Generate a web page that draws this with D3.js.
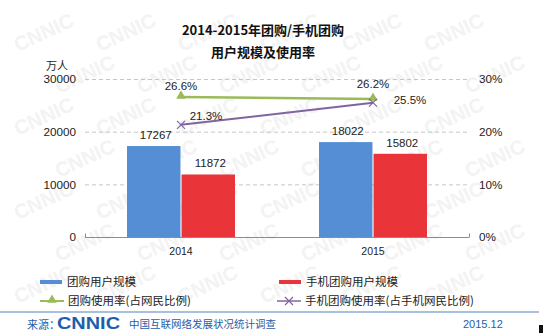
<!DOCTYPE html>
<html>
<head>
<meta charset="utf-8">
<script src="https://cdn.jsdelivr.net/npm/d3@7/dist/d3.min.js"></script>
<style>
  html, body { margin: 0; padding: 0; background: #fff; }
  svg { display: block; font-family: "Liberation Sans", Arial, "Noto Sans CJK SC", sans-serif; }
</style>
</head>
<body>
<svg id="chart" width="543" height="333"></svg>
<script>
// Data
const years = ["2014", "2015"];
const groupBuyUsers = [17267, 18022];        // 团购用户规模 (万人)
const mobileGroupBuyUsers = [11872, 15802];  // 手机团购用户规模 (万人)
const groupBuyRate = [26.6, 26.2];           // 团购使用率 (%)
const mobileGroupBuyRate = [21.3, 25.5];     // 手机团购使用率 (%)
const leftTicks = [0, 10000, 20000, 30000];
const rightTicks = [0, 10, 20, 30];

const C = {
  blue: "#558ed5",
  red: "#e9353a",
  green: "#9bbb59",
  purple: "#8064a2",
  grid: "#c6c6c6",
  axis: "#8c8c8c",
  brand: "#1f5ea8"
};
const CJK = '"Noto Sans CJK SC", "Liberation Sans", sans-serif';

const svg = d3.select("#chart");

// Faint background watermark, only whole marks inside the canvas
const wm = svg.append("g").attr("fill", "#f3f3f3").attr("font-weight", "bold")
  .attr("font-size", 20).attr("font-family", "Liberation Sans, Arial, sans-serif");
for (let r = 0; r < 8; r++) {
  for (let c = 0; c < 7; c++) {
    const px = c * 82 + (r % 2) * 41 + 18;
    const py = r * 42 + 52;
    if (px + 62 > 538 || py > 330) continue;
    wm.append("text").attr("x", px).attr("y", py)
      .attr("transform", `rotate(-25,${px},${py})`).text("CNNIC");
  }
}

// Scales
const x = d3.scaleBand().domain(years).range([85, 469]);
const inner = d3.scaleBand().domain([0, 1]).range([42, 150]).paddingInner(0.02);
const yL = d3.scaleLinear().domain([0, 30000]).range([237, 79]);
const yR = d3.scaleLinear().domain([0, 30]).range([237, 79]);

// Title
svg.append("text").attr("x", 263).attr("y", 35).attr("text-anchor", "middle")
  .attr("font-family", CJK).attr("font-weight", "bold").attr("font-size", 13)
  .attr("fill", "#111").text("2014-2015年团购/手机团购");
svg.append("text").attr("x", 263).attr("y", 57).attr("text-anchor", "middle")
  .attr("font-family", CJK).attr("font-weight", "bold").attr("font-size", 13)
  .attr("fill", "#111").text("用户规模及使用率");

// Unit label
svg.append("text").attr("x", 46).attr("y", 70).attr("font-family", CJK)
  .attr("font-size", 11).attr("fill", "#222").text("万人");

// Gridlines
svg.append("g").selectAll("line").data(leftTicks.filter(d => d > 0)).join("line")
  .attr("x1", 85).attr("x2", 469)
  .attr("y1", d => yL(d) + 0.5).attr("y2", d => yL(d) + 0.5)
  .attr("stroke", C.grid).attr("stroke-dasharray", "4,3");

// Left axis
const leftAxis = svg.append("g").attr("transform", "translate(76,0)")
  .call(d3.axisLeft(yL).tickValues(leftTicks).tickSize(0).tickPadding(0).tickFormat(d3.format("d")));
leftAxis.select(".domain").remove();
leftAxis.selectAll("text").attr("font-size", 11.7).attr("fill", "#222")
  .attr("font-family", "Liberation Sans, Arial, sans-serif");

// Right axis
const rightAxis = svg.append("g").attr("transform", "translate(479,0)")
  .call(d3.axisRight(yR).tickValues(rightTicks).tickSize(0).tickPadding(0).tickFormat(d => d + "%"));
rightAxis.select(".domain").remove();
rightAxis.selectAll("text").attr("font-size", 11.7).attr("fill", "#222")
  .attr("font-family", "Liberation Sans, Arial, sans-serif");

// Bars
const series = [groupBuyUsers, mobileGroupBuyUsers];
const colors = [C.blue, C.red];
const bars = svg.append("g");
series.forEach((vals, si) => {
  bars.selectAll(null).data(vals).join("rect")
    .attr("x", (d, i) => x(years[i]) + inner(si))
    .attr("width", inner.bandwidth())
    .attr("y", d => yL(d))
    .attr("height", d => yL(0) - yL(d))
    .attr("fill", colors[si]);
  bars.selectAll(null).data(vals).join("text")
    .attr("x", (d, i) => x(years[i]) + inner(si) + inner.bandwidth() / 2 + 2)
    .attr("y", d => yL(d) - 7)
    .attr("text-anchor", "middle").attr("font-size", 11.5).attr("fill", "#222")
    .text(d => d);
});

// Category axis
const baseY = yL(0) + 0.5;
svg.append("line").attr("x1", 85).attr("x2", 469).attr("y1", baseY).attr("y2", baseY)
  .attr("stroke", C.axis);
[85, 469].forEach(px => {
  svg.append("line").attr("x1", px + 0.5).attr("x2", px + 0.5).attr("y1", baseY).attr("y2", baseY - 4)
    .attr("stroke", C.axis);
});
svg.append("g").selectAll("text").data(years).join("text")
  .attr("x", d => x(d) + x.bandwidth() / 2).attr("y", 255)
  .attr("text-anchor", "middle").attr("font-size", 10.5).attr("fill", "#222").text(d => d);

// Lines
const cx = (d, i) => x(years[i]) + x.bandwidth() / 2;
const lineGen = d3.line().x((d, i) => cx(d, i)).y(d => yR(d));

svg.append("path").datum(groupBuyRate).attr("d", lineGen)
  .attr("fill", "none").attr("stroke", C.green).attr("stroke-width", 2.5);
svg.append("path").datum(mobileGroupBuyRate).attr("d", lineGen)
  .attr("fill", "none").attr("stroke", C.purple).attr("stroke-width", 2);

const tri = d3.symbol().type(d3.symbolTriangle).size(40);
svg.append("g").selectAll("path").data(groupBuyRate).join("path")
  .attr("d", tri).attr("fill", C.green)
  .attr("transform", (d, i) => `translate(${cx(d, i)},${yR(d) - 1})`);

const xMark = (g, px, py) => {
  g.append("path").attr("d", `M${px - 4},${py - 4}L${px + 4},${py + 4}M${px - 4},${py + 4}L${px + 4},${py - 4}`)
    .attr("stroke", C.purple).attr("stroke-width", 1.2).attr("fill", "none");
};
const xg = svg.append("g");
mobileGroupBuyRate.forEach((d, i) => xMark(xg, cx(d, i), yR(d)));

// Line labels
const fmtPct = d => d.toFixed(1) + "%";
const greenOff = [[0, -7], [0, -11]];
const purpleOff = [[25, -5], [37, 1]];
svg.append("g").selectAll("text").data(groupBuyRate).join("text")
  .attr("x", (d, i) => cx(d, i) + greenOff[i][0]).attr("y", (d, i) => yR(d) + greenOff[i][1])
  .attr("text-anchor", "middle").attr("font-size", 11.5).attr("fill", "#222").text(fmtPct);
svg.append("g").selectAll("text").data(mobileGroupBuyRate).join("text")
  .attr("x", (d, i) => cx(d, i) + purpleOff[i][0]).attr("y", (d, i) => yR(d) + purpleOff[i][1])
  .attr("text-anchor", "middle").attr("font-size", 11.5).attr("fill", "#222").text(fmtPct);

// Legend
const legend = svg.append("g").attr("font-family", CJK).attr("font-size", 11.5).attr("fill", "#222");
const legItems = [
  { x: 40, y: 282, color: C.blue, kind: "bar", label: "团购用户规模" },
  { x: 279, y: 282, color: C.red, kind: "bar", label: "手机团购用户规模" },
  { x: 40, y: 301, color: C.green, kind: "tri", label: "团购使用率(占网民比例)" },
  { x: 277, y: 301, color: C.purple, kind: "x", label: "手机团购使用率(占手机网民比例)" }
];
legItems.forEach(it => {
  if (it.kind === "bar") {
    legend.append("rect").attr("x", it.x).attr("y", it.y - 2).attr("width", 22).attr("height", 4).attr("fill", it.color);
    legend.append("text").attr("x", it.x + 27).attr("y", it.y + 4).text(it.label);
  } else {
    legend.append("line").attr("x1", it.x).attr("x2", it.x + 24).attr("y1", it.y).attr("y2", it.y)
      .attr("stroke", it.color).attr("stroke-width", it.kind === "tri" ? 2 : 1.5);
    if (it.kind === "tri") {
      legend.append("path").attr("d", tri).attr("fill", it.color)
        .attr("transform", `translate(${it.x + 12},${it.y - 1})`);
    } else {
      xMark(legend, it.x + 12, it.y);
    }
    legend.append("text").attr("x", it.x + 28).attr("y", it.y + 4).text(it.label);
  }
});

// Footer
svg.append("line").attr("x1", 0).attr("x2", 539).attr("y1", 312).attr("y2", 312)
  .attr("stroke", "#4f81bd").attr("stroke-width", 1);
svg.append("text").attr("x", 27).attr("y", 329).attr("font-family", CJK).attr("font-size", 11)
  .attr("fill", C.brand).text("来源：");
svg.append("text").attr("x", 57).attr("y", 329).attr("font-family", "Liberation Sans, Arial, sans-serif")
  .attr("font-weight", "bold").attr("font-size", 16.5).attr("fill", C.brand)
  .attr("textLength", 63).attr("lengthAdjust", "spacingAndGlyphs").text("CNNIC");
svg.append("text").attr("x", 129).attr("y", 328).attr("font-family", CJK).attr("font-size", 10.5)
  .attr("fill", C.brand).text("中国互联网络发展状况统计调查");
svg.append("text").attr("x", 463).attr("y", 328).attr("font-size", 11)
  .attr("fill", C.brand).text("2015.12");
svg.append("rect").attr("x", 539).attr("y", 325).attr("width", 4).attr("height", 8).attr("fill", "#111");
</script>
</body>
</html>
